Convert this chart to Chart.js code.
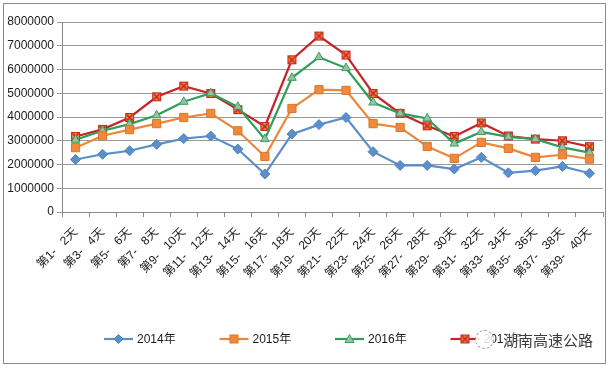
<!DOCTYPE html>
<html>
<head>
<meta charset="utf-8">
<script src="https://cdn.jsdelivr.net/npm/chart.js@4/dist/chart.umd.min.js"></script>
<style>
html,body{margin:0;padding:0;background:#fff;}
#wrap{position:relative;width:610px;height:368px;}
#frame{position:absolute;left:3px;top:3px;width:603px;height:361px;border:1px solid #8a8a8a;box-sizing:border-box;pointer-events:none;}
#wm{position:absolute;left:475px;top:328px;height:22px;display:flex;align-items:center;pointer-events:none;}
#wm .ic{width:17px;height:17px;border:1px dashed #9a9a9a;border-radius:50%;background:rgba(255,255,255,0.85);margin-right:9px;}
#wm .tx{font:15px "Noto Sans CJK SC",sans-serif;color:#3c3c3c;text-shadow:0 0 2px #fff,0 0 3px #fff,0 0 4px #fff;}
</style>
</head>
<body>
<div id="wrap">
<canvas id="c" width="610" height="368"></canvas>
<div id="frame"></div>
<div id="wm"><span class="ic"></span><span class="tx">湖南高速公路</span></div>
</div>
<script>
const categories = ['第1-   2天','第3-   4天','第5-   6天','第7-   8天','第9-   10天','第11-   12天','第13-   14天','第15-   16天','第17-   18天','第19-   20天','第21-   22天','第23-   24天','第25-   26天','第27-   28天','第29-   30天','第31-   32天','第33-   34天','第35-   36天','第37-   38天','第39-   40天'];
const seriesNames = ['2014年','2015年','2016年','2017年'];
const v2014 = [2210000,2430000,2580000,2850000,3090000,3200000,2650000,1600000,3280000,3680000,3980000,2540000,1960000,1960000,1810000,2300000,1650000,1740000,1920000,1630000];
const v2015 = [2710000,3210000,3470000,3720000,3980000,4150000,3420000,2340000,4360000,5150000,5120000,3720000,3560000,2760000,2260000,2930000,2680000,2300000,2410000,2230000];
const v2016 = [3040000,3420000,3700000,4070000,4640000,5000000,4430000,3070000,5650000,6520000,6060000,4610000,4150000,3940000,2880000,3370000,3160000,3070000,2720000,2500000];
const v2017 = [3180000,3480000,3980000,4850000,5300000,4990000,4310000,3600000,6410000,7410000,6610000,4990000,4150000,3630000,3180000,3750000,3200000,3070000,3000000,2750000];
const yTicks = [0,1000000,2000000,3000000,4000000,5000000,6000000,7000000,8000000];

const FONT = '"Liberation Sans","Noto Sans CJK SC",sans-serif';

// custom marker for 2017: orange square with red X
function makeXMarker(){
  const cv = document.createElement('canvas');
  cv.width = 11; cv.height = 11;
  const g = cv.getContext('2d');
  g.fillStyle = '#f3852f';
  g.fillRect(1,1,9,9);
  g.strokeStyle = '#c4262a';
  g.lineWidth = 1;
  g.strokeRect(1.5,1.5,8,8);
  g.lineWidth = 1.6;
  g.beginPath();
  g.moveTo(2.5,2.5); g.lineTo(8.5,8.5);
  g.moveTo(8.5,2.5); g.lineTo(2.5,8.5);
  g.stroke();
  return cv;
}
const xMarker = makeXMarker();

const styles = [
  {line:'#5b8fc9', fill:'#5b8fc9', border:'#4f84c0', point:'rectRot', r:5},
  {line:'#ec873a', fill:'#f08a3a', border:'#d9772c', point:'rect', r:5.8},
  {line:'#2e9f5a', fill:'#97c2a2', border:'#3a9b60', point:'triangle', r:5},
  {line:'#c4262a', fill:'#f3852f', border:'#c4262a', point:xMarker, r:5}
];
const values = [v2014, v2015, v2016, v2017];

const datasets = seriesNames.map((name,i)=>({
  label: name,
  data: values[i],
  borderColor: styles[i].line,
  backgroundColor: styles[i].fill,
  pointBackgroundColor: styles[i].fill,
  pointBorderColor: styles[i].border,
  pointBorderWidth: 1,
  pointStyle: styles[i].point,
  pointRadius: styles[i].r,
  borderWidth: 2.2,
  tension: 0
}));

function drawMarker(ctx, st, x, y){
  ctx.save();
  ctx.fillStyle = st.fill; ctx.strokeStyle = st.border; ctx.lineWidth = 1;
  if (st.point === 'rectRot'){
    ctx.beginPath(); ctx.moveTo(x, y-4.5); ctx.lineTo(x+4.5, y); ctx.lineTo(x, y+4.5); ctx.lineTo(x-4.5, y); ctx.closePath(); ctx.fill(); ctx.stroke();
  } else if (st.point === 'rect'){
    ctx.fillRect(x-4, y-4, 8, 8); ctx.strokeRect(x-4, y-4, 8, 8);
  } else if (st.point === 'triangle'){
    ctx.beginPath(); ctx.moveTo(x, y-4.5); ctx.lineTo(x+4.5, y+3.5); ctx.lineTo(x-4.5, y+3.5); ctx.closePath(); ctx.fill(); ctx.stroke();
  } else {
    ctx.drawImage(st.point, x-5.5, y-5.5);
  }
  ctx.restore();
}

const legendPlugin = {
  id: 'lineLegend',
  afterDraw(chart){
    const ctx = chart.ctx;
    const startX = 104, spacing = 115.5, y = 339, lineW = 29;
    ctx.save();
    ctx.font = '12px ' + FONT;
    ctx.textBaseline = 'middle';
    ctx.textAlign = 'left';
    chart.data.datasets.forEach((ds,i)=>{
      const x = startX + i*spacing;
      ctx.strokeStyle = styles[i].line; ctx.lineWidth = 2.2;
      ctx.beginPath(); ctx.moveTo(x, y); ctx.lineTo(x+lineW, y); ctx.stroke();
      drawMarker(ctx, styles[i], x+lineW/2, y);
      ctx.fillStyle = '#1a1a1a';
      ctx.fillText(ds.label, x+lineW+4, y+1);
    });
    ctx.restore();
  }
};

new Chart(document.getElementById('c'), {
  type: 'line',
  data: { labels: categories, datasets },
  options: {
    responsive: false,
    animation: false,
    layout: { padding: { left: 0, right: 7, top: 22, bottom: 56 } },
    plugins: { legend: { display: false }, tooltip: { enabled: false } },
    scales: {
      x: {
        offset: true,
        grid: { offset: true, drawOnChartArea: false, drawTicks: true, tickLength: 5, color: '#8a8a8a' },
        border: { color: '#8a8a8a' },
        ticks: { autoSkip: false, maxRotation: 45, minRotation: 45, padding: 8, color: '#1a1a1a', font: { family: FONT, size: 12 } },
        afterFit: s => { s.height = 100; }
      },
      y: {
        min: 0, max: 8000000,
        afterBuildTicks: s => { s.ticks = yTicks.map(v => ({ value: v })); },
        grid: { color: '#9a9a9a', tickLength: 5, drawTicks: true },
        border: { color: '#8a8a8a' },
        ticks: { padding: 3, color: '#1a1a1a', font: { family: FONT, size: 12 }, callback: v => String(v) },
        afterFit: s => { s.width = 62; }
      }
    }
  },
  plugins: [legendPlugin]
});
</script>
</body>
</html>
